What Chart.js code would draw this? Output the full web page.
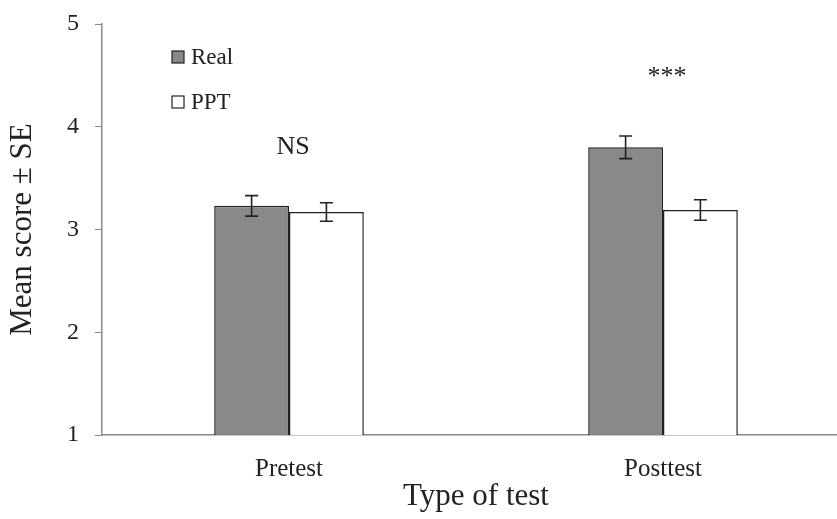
<!DOCTYPE html>
<html>
<head>
<meta charset="utf-8">
<script src="https://cdn.jsdelivr.net/npm/chart.js@4.4.1/dist/chart.umd.min.js"></script>
<style>
    html, body { margin: 0; padding: 0; background: #fff; overflow: hidden; }
    #wrap { width: 850px; height: 519px; }
</style>
</head>
<body>
<div id="wrap"><canvas id="meanScoreChart"></canvas></div>
<script>
// Chart data
const testTypes = ['Pretest', 'Posttest'];
const realMeans = [3.23, 3.80];
const realSE = [0.10, 0.11];
const pptMeans = [3.17, 3.19];
const pptSE = [0.09, 0.10];
const yTicks = [1, 2, 3, 4, 5];
const sigLabels = ['NS', '***'];
const sigHeights = [3.80, 4.48]; // where the marks sit, in score units

const serif = "'Liberation Serif', 'Times New Roman', serif";
const axisGray = '#8a8a8a';
const ink = '#222222';

// Draws the error bars, the significance marks and the legend
const extrasPlugin = {
    id: 'extras',
    afterDatasetsDraw(chart) {
        const ctx = chart.ctx;
        const y = chart.scales.y;
        const x = chart.scales.x;
        const errs = [realSE, pptSE];

        ctx.save();
        ctx.strokeStyle = ink;
        ctx.lineWidth = 1.6;
        chart.data.datasets.forEach((ds, di) => {
            chart.getDatasetMeta(di).data.forEach((bar, i) => {
                const v = ds.data[i];
                const top = y.getPixelForValue(v + errs[di][i]);
                const bottom = y.getPixelForValue(v - errs[di][i]);
                ctx.beginPath();
                ctx.moveTo(bar.x, top);
                ctx.lineTo(bar.x, bottom);
                ctx.moveTo(bar.x - 6.5, top);
                ctx.lineTo(bar.x + 6.5, top);
                ctx.moveTo(bar.x - 6.5, bottom);
                ctx.lineTo(bar.x + 6.5, bottom);
                ctx.stroke();
            });
        });

        // significance marks above each group
        ctx.fillStyle = ink;
        ctx.font = '26px ' + serif;
        ctx.textAlign = 'center';
        ctx.textBaseline = 'middle';
        sigLabels.forEach((s, i) => {
            ctx.fillText(s, x.getPixelForValue(i) + 4, y.getPixelForValue(sigHeights[i]));
        });

        // legend in the upper left corner
        ctx.font = '23px ' + serif;
        ctx.textAlign = 'left';
        chart.data.datasets.forEach((ds, di) => {
            const ly = 57 + di * 45;
            ctx.fillStyle = ds.backgroundColor;
            ctx.fillRect(172, ly - 6, 12, 12);
            ctx.lineWidth = 1.2;
            ctx.strokeStyle = ink;
            ctx.strokeRect(172, ly - 6, 12, 12);
            ctx.fillStyle = ink;
            ctx.fillText(ds.label, 191, ly + 1);
        });
        ctx.restore();
    }
};

const ctxMean = document.getElementById('meanScoreChart').getContext('2d');
new Chart(ctxMean, {
    type: 'bar',
    data: {
        labels: testTypes,
        datasets: [
            {
                label: 'Real',
                data: realMeans,
                backgroundColor: '#898989',
                borderColor: ink,
                borderWidth: 1.5,
                borderSkipped: 'bottom'
            },
            {
                label: 'PPT',
                data: pptMeans,
                backgroundColor: '#ffffff',
                borderColor: ink,
                borderWidth: 1.5,
                borderSkipped: 'bottom'
            }
        ]
    },
    options: {
        responsive: true,
        maintainAspectRatio: false,
        animation: false,
        datasets: {
            bar: { categoryPercentage: 0.4, barPercentage: 1.0 }
        },
        layout: { padding: { top: 24, right: 0, left: 0, bottom: 0 } },
        plugins: {
            legend: { display: false },
            tooltip: { enabled: false }
        },
        scales: {
            x: {
                grid: { display: false },
                border: { display: true, color: axisGray, width: 1.5 },
                ticks: {
                    color: ink,
                    padding: 11,
                    font: { family: serif, size: 25 }
                },
                title: {
                    display: true,
                    text: 'Type of test',
                    color: ink,
                    padding: { top: 2 },
                    font: { family: serif, size: 31 }
                },
                afterFit: (scale) => { scale.height = 84; }
            },
            y: {
                min: 1,
                max: 5,
                afterBuildTicks: (scale) => { scale.ticks = yTicks.map(v => ({ value: v })); },
                grid: {
                    drawOnChartArea: false,
                    drawTicks: true,
                    tickLength: 7,
                    color: axisGray
                },
                border: { display: true, color: axisGray, width: 1.5 },
                ticks: {
                    color: ink,
                    padding: 16,
                    font: { family: serif, size: 24 }
                },
                title: {
                    display: true,
                    text: 'Mean score ± SE',
                    color: ink,
                    padding: { bottom: 4 },
                    font: { family: serif, size: 31 }
                },
                afterFit: (scale) => {
                    scale.width = 102;
                    scale.paddingTop = 0;
                    scale.paddingBottom = 0;
                }
            }
        }
    },
    plugins: [extrasPlugin]
});
</script>
</body>
</html>
